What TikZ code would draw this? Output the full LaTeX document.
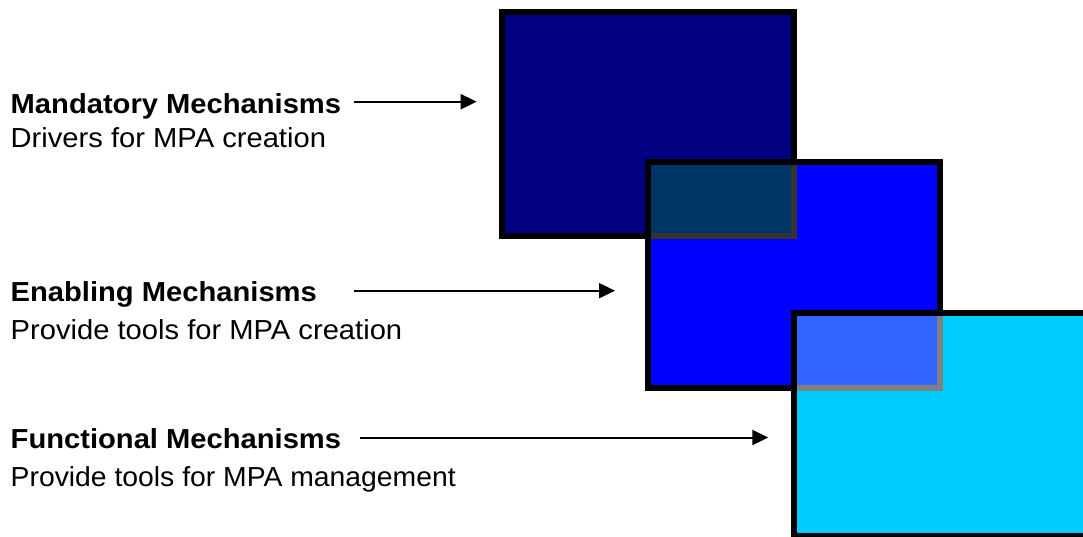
\documentclass[tikz,border=0pt]{standalone}
\usepackage{fontspec}
\setmainfont{Liberation Sans}[FakeStretch=1.06]
\newfontfamily\narrowfont{Liberation Sans}[FakeStretch=1.03]
\usetikzlibrary{arrows.meta}
\definecolor{navy}{HTML}{000080}
\definecolor{royal}{HTML}{0000FF}
\definecolor{sky}{HTML}{00CCFF}
\definecolor{deepteal}{HTML}{003366}
\definecolor{paleblue}{HTML}{3366FF}
\definecolor{darkgrey}{HTML}{333333}
\definecolor{midgrey}{HTML}{808080}
\newcommand{\mechfont}{\fontsize{27.5}{33}\selectfont}
\tikzset{
    boxframe/.style={draw=black,line width=6pt},
    overlapframe/.style={line width=6pt},
    pointer/.style={-{Triangle[length=16pt,width=15pt]},line width=2pt},
    mechtitle/.style={anchor=base west,inner sep=0pt,font=\mechfont\bfseries},
    mechtext/.style={anchor=base west,inner sep=0pt,font=\mechfont}
}

\begin{document}
\begin{tikzpicture}[x=1pt,y=-1pt]
        \useasboundingbox (0,0) rectangle (1083,537);

        % the three boxes
        \draw[boxframe,fill=navy] (502,12) rectangle (794,235.7);
        \draw[boxframe,fill=royal] (648,162) rectangle (940,388);
        \fill[deepteal] (651,165) rectangle (791,232.7);
        \draw[overlapframe,color=darkgrey] (794,165) -- (794,235.7) -- (651,235.7);
        \draw[boxframe,fill=sky] (794,313) rectangle (1090,535.5);
        \fill[paleblue] (797,316) rectangle (937,385);
        \draw[overlapframe,color=midgrey] (940,316) -- (940,388) -- (797,388);

        % labels
        \node[mechtitle] (mand) at (10.5,113.5) {Mandatory Mechanisms};
        \node[mechtext] (mandsub) at (10.5,148) {Drivers for MPA creation};
        \node[mechtitle] (enab) at (10.5,301.5) {Enabling Mechanisms};
        \node[mechtext] (enabsub) at (10.5,339.5) {Provide tools for MPA creation};
        \node[mechtitle] (func) at (10.5,448) {Functional Mechanisms};
        \node[mechtext,font=\mechfont\narrowfont] (funcsub) at (10.5,486) {Provide tools for MPA management};

        \coordinate (mandtip) at (476.7,101.7);
        \coordinate (enabtip) at (615,290.7);
        \coordinate (functip) at (768.3,437.5);

        \draw[pointer] ([xshift=13pt]mand.base east |- mandtip) -- (mandtip);
        \draw[pointer] ([xshift=37pt]enab.base east |- enabtip) -- (enabtip);
        \draw[pointer] ([xshift=19pt]func.base east |- functip) -- (functip);
\end{tikzpicture}
\end{document}
